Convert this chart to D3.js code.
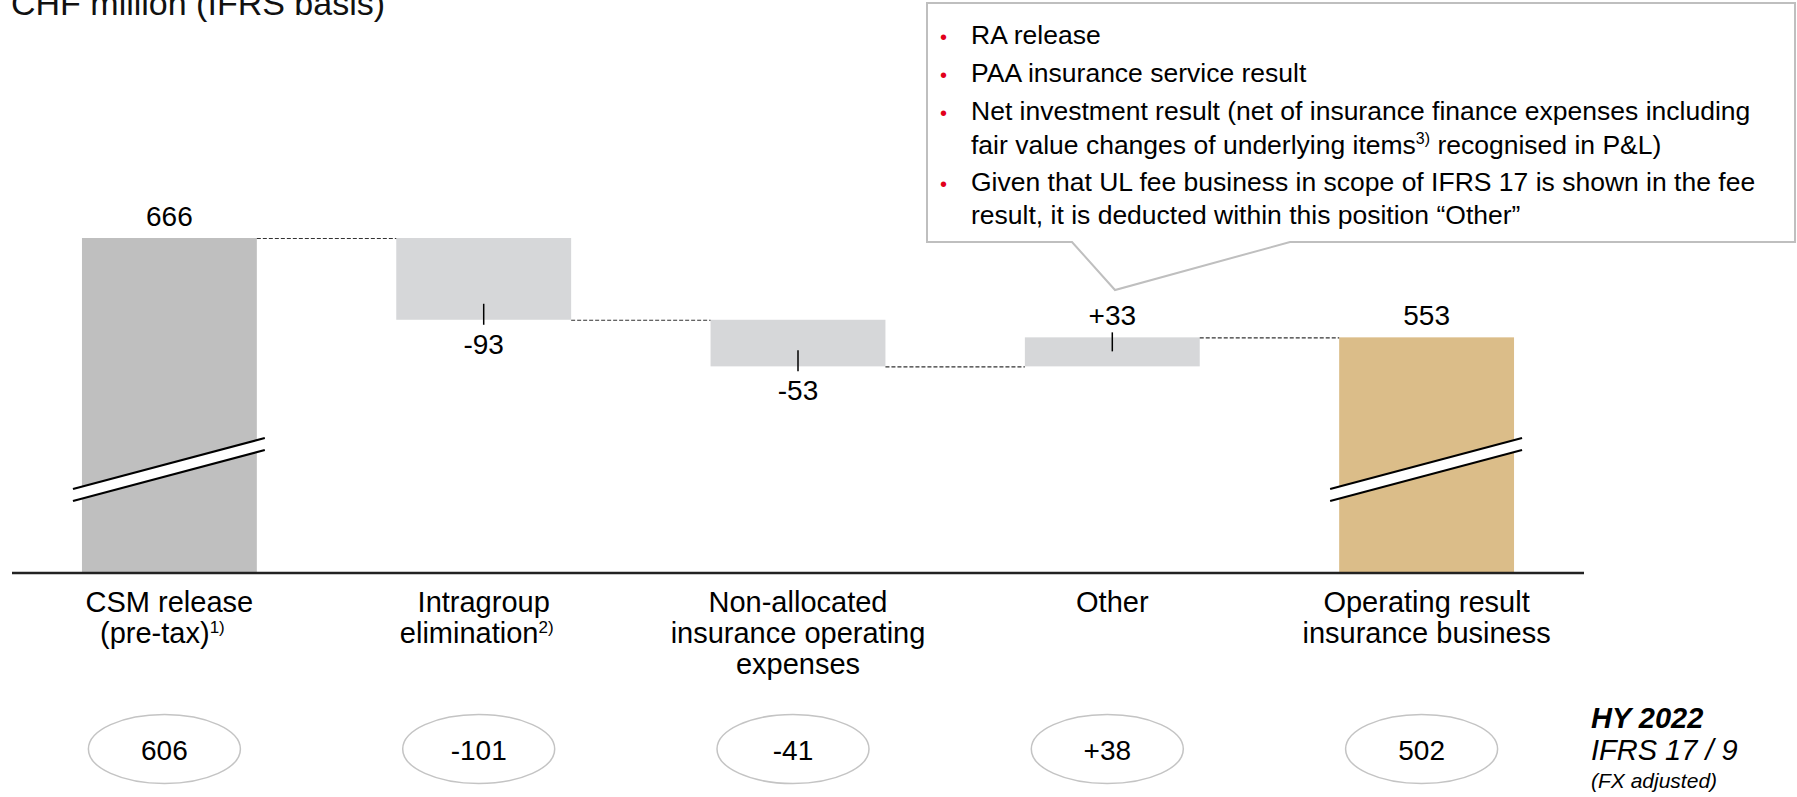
<!DOCTYPE html>
<html>
<head>
<meta charset="utf-8">
<script src="https://cdn.jsdelivr.net/npm/d3@7"></script>
<style>
  body { margin: 0; background: #fff; }
  svg { display: block; font-family: Arial, "Liberation Sans", sans-serif; }
</style>
</head>
<body>
<div class="chart"></div>
<script>
// Chart data
var categories = ["CSM release", "Intragroup elimination", "Non-allocated", "Other", "Operating result"];
var labelLines = [
  ["CSM release", "(pre-tax)"],
  ["Intragroup", "elimination"],
  ["Non-allocated", "insurance operating", "expenses"],
  ["Other"],
  ["Operating result", "insurance business"]
];
var labelNotes = ["1)", "2)", "", "", ""];
var values = [666, -93, -53, 33, 553];
var barTypes = ["total", "delta", "delta", "delta", "total"];
var priorYear = [606, -101, -41, 38, 502];
var calloutBullets = [
  ["RA release"],
  ["PAA insurance service result"],
  ["Net investment result (net of insurance finance expenses including",
   "fair value changes of underlying items|3)| recognised in P&L)"],
  ["Given that UL fee business in scope of IFRS 17 is shown in the fee",
   "result, it is deducted within this position \u201cOther\u201d"]
];
var title = "CHF million (IFRS basis)";
var legendLines = ["HY 2022", "IFRS 17 / 9", "(FX adjusted)"];

// SVG area
var svgWidth = 1797;
var svgHeight = 797;
var axisY = 573;
var axisBreakValue = 285;

var svg = d3.select(".chart")
  .append("svg")
  .attr("width", svgWidth)
  .attr("height", svgHeight);

// Scales
var x = d3.scaleBand()
  .domain(categories)
  .range([12, 1584])
  .paddingInner(0.4436)
  .paddingOuter(0.2226);

var y = d3.scaleLinear()
  .domain([axisBreakValue, 666])
  .range([axisY, 238]);

// Waterfall steps
var running = 0;
var bars = categories.map(function(c, i) {
  var d = {cat: c, value: values[i], type: barTypes[i], idx: i};
  if (d.type === "total") {
    d.start = axisBreakValue; d.end = values[i]; running = values[i];
  } else {
    d.start = running; d.end = running + values[i]; running = d.end;
  }
  d.level = running;
  return d;
});

var colors = {0: "#bfbfbf", 4: "#dbbd89"};

// Bars
svg.append("g").selectAll("rect")
  .data(bars)
  .enter().append("rect")
  .attr("x", function(d) { return x(d.cat); })
  .attr("width", x.bandwidth())
  .attr("y", function(d) { return y(Math.max(d.start, d.end)); })
  .attr("height", function(d) { return Math.abs(y(d.start) - y(d.end)); })
  .attr("fill", function(d) { return colors[d.idx] || "#d6d7d9"; });

// Axis break marks on total bars
var breaks = svg.append("g").selectAll("g")
  .data(bars.filter(function(d) { return d.type === "total"; }))
  .enter().append("g");
breaks.append("path")
  .attr("d", function(d) {
    var x0 = x(d.cat) - 9, x1 = x(d.cat) + x.bandwidth() + 8;
    return "M" + x0 + "," + (axisY - 84) + "L" + x1 + "," + (axisY - 135) +
      "L" + x1 + "," + (axisY - 123) + "L" + x0 + "," + (axisY - 72) + "Z";
  })
  .attr("fill", "#fff");
[84, 72].forEach(function(off) {
  breaks.append("line")
    .attr("x1", function(d) { return x(d.cat) - 9; })
    .attr("x2", function(d) { return x(d.cat) + x.bandwidth() + 8; })
    .attr("y1", axisY - off)
    .attr("y2", axisY - off - 51)
    .attr("stroke", "#000")
    .attr("stroke-width", 2);
});

// Dashed connectors
svg.append("g").selectAll("line")
  .data(bars.slice(0, -1))
  .enter().append("line")
  .attr("x1", function(d) { return x(d.cat) + x.bandwidth(); })
  .attr("x2", function(d, i) { return x(categories[i + 1]); })
  .attr("y1", function(d) { return y(d.level) + 0.5; })
  .attr("y2", function(d) { return y(d.level) + 0.5; })
  .attr("stroke", "#333")
  .attr("stroke-width", 1.2)
  .attr("stroke-dasharray", "4,2");

// Ticks on delta bars
var deltas = bars.filter(function(d) { return d.type === "delta"; });
svg.append("g").selectAll("line")
  .data(deltas)
  .enter().append("line")
  .attr("x1", function(d) { return x(d.cat) + x.bandwidth() / 2; })
  .attr("x2", function(d) { return x(d.cat) + x.bandwidth() / 2; })
  .attr("y1", function(d) { return d.value < 0 ? y(d.end) - 16 : y(d.end) - 5; })
  .attr("y2", function(d) { return d.value < 0 ? y(d.end) + 5 : y(d.end) + 14; })
  .attr("stroke", "#000")
  .attr("stroke-width", 1.5);

// Value labels
svg.append("g").selectAll("text")
  .data(bars)
  .enter().append("text")
  .attr("x", function(d) { return x(d.cat) + x.bandwidth() / 2; })
  .attr("y", function(d) {
    if (d.type === "delta" && d.value < 0) return y(d.end) + 34;
    return y(d.end) - 12;
  })
  .attr("text-anchor", "middle")
  .attr("font-size", 28)
  .attr("fill", "#000")
  .text(function(d) {
    if (d.type === "delta" && d.value > 0) return "+" + d.value;
    return String(d.value);
  });

// Baseline
svg.append("line")
  .attr("x1", x.range()[0]).attr("x2", x.range()[1])
  .attr("y1", axisY).attr("y2", axisY)
  .attr("stroke", "#222")
  .attr("stroke-width", 2.5);

// Category labels
var cats = svg.append("g").selectAll("text")
  .data(bars)
  .enter().append("text")
  .attr("text-anchor", "middle")
  .attr("font-size", 29)
  .attr("fill", "#000");
cats.each(function(d, i) {
  var t = d3.select(this);
  var cx = x(d.cat) + x.bandwidth() / 2;
  labelLines[i].forEach(function(line, j) {
    var last = j === labelLines[i].length - 1 && labelNotes[i];
    t.append("tspan")
      .attr("x", last ? cx - 7 : cx)
      .attr("y", 612 + j * 31)
      .text(line);
    if (last) {
      t.append("tspan").attr("dy", -10).attr("font-size", 17).text(labelNotes[i]);
    }
  });
});

// Prior-year ellipses
var py = svg.append("g").selectAll("g")
  .data(bars)
  .enter().append("g")
  .attr("transform", function(d) {
    return "translate(" + (x(d.cat) + x.bandwidth() / 2 - 5) + ",749)";
  });
py.append("ellipse")
  .attr("rx", 76).attr("ry", 34.5)
  .attr("fill", "#fff")
  .attr("stroke", "#c4c4c4")
  .attr("stroke-width", 1.5);
py.append("text")
  .attr("y", 11)
  .attr("text-anchor", "middle")
  .attr("font-size", 28)
  .text(function(d, i) {
    var v = priorYear[i];
    return (d.type === "delta" && v > 0 ? "+" : "") + v;
  });

// Legend for the ellipses
var legend = svg.append("text").attr("font-size", 29).attr("font-style", "italic");
legend.append("tspan").attr("x", 1591).attr("y", 728).attr("font-weight", "bold").text(legendLines[0]);
legend.append("tspan").attr("x", 1591).attr("y", 760).text(legendLines[1]);
legend.append("tspan").attr("x", 1591).attr("y", 788).attr("font-size", 21).text(legendLines[2]);

// Title (cut at top of slide)
svg.append("text")
  .attr("x", 11).attr("y", 15)
  .attr("font-size", 34)
  .attr("fill", "#111")
  .text(title);

// Callout box
svg.append("path")
  .attr("d", "M927,3H1795V242H1290L1115,290L1072,242H927Z")
  .attr("fill", "#fff")
  .attr("stroke", "#bfbfbf")
  .attr("stroke-width", 2);

var lineY = [[44], [82], [120, 154], [191, 224]];
var callout = svg.append("g").attr("font-size", 26.5).attr("fill", "#000");
calloutBullets.forEach(function(lines, i) {
  callout.append("text")
    .attr("x", 940).attr("y", lineY[i][0])
    .attr("fill", "#e2001a")
    .attr("font-size", 20)
    .text("\u2022");
  lines.forEach(function(line, j) {
    var t = callout.append("text").attr("x", 971).attr("y", lineY[i][j]);
    line.split("|").forEach(function(part, k) {
      if (k === 1) {
        t.append("tspan").attr("dy", -10).attr("font-size", 16).text(part);
      } else if (k === 2) {
        t.append("tspan").attr("dy", 10).text(part);
      } else {
        t.append("tspan").text(part);
      }
    });
  });
});
</script>
</body>
</html>
